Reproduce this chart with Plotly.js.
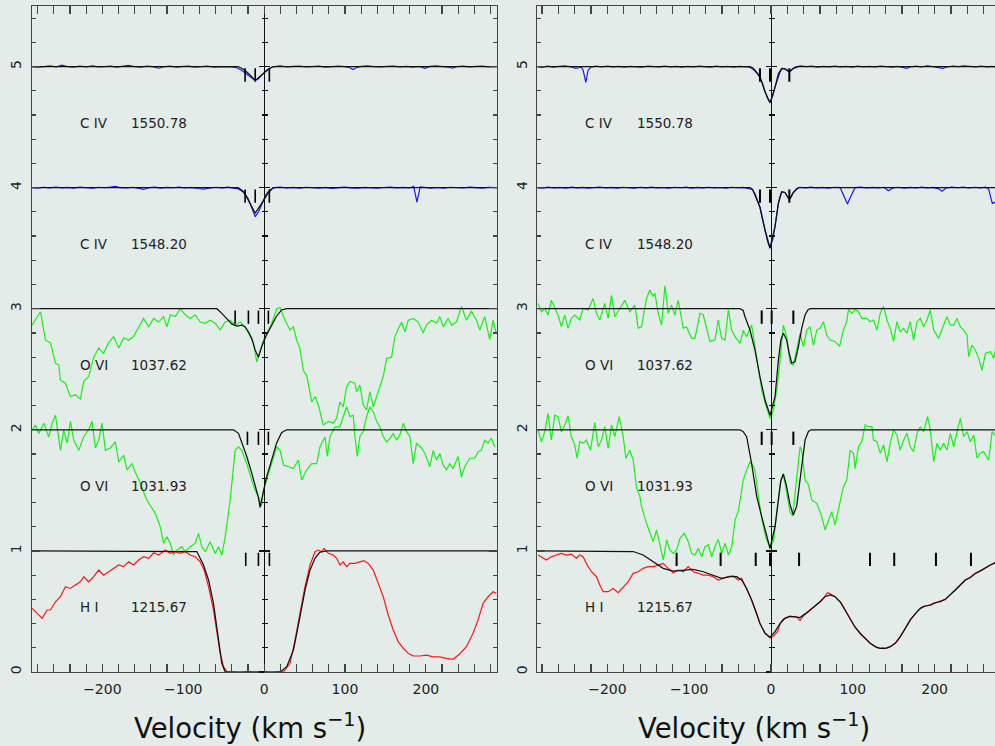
<!DOCTYPE html>
<html><head><meta charset="utf-8">
<script src="https://cdn.plot.ly/plotly-3.0.1.min.js"></script>
<style>html,body{margin:0;padding:0;background:#e3ece8;}#chart{width:995px;height:746px;}</style>
</head><body><div id="chart"></div>
<script>
// ---------- row definitions (offset = continuum level - 1) ----------
const ROW_OFFSETS = [4, 3, 2, 1, 0];
const ROW_IONS = ['C IV', 'C IV', 'O VI', 'O VI', 'H I'];
const ROW_WAVES = ['1550.78', '1548.20', '1037.62', '1031.93', '1215.67'];

// ---------- LEFT PANEL: observed spectra [velocity, normalized flux] ----------
const L_C4_1550 = [[-287,1.000],[-280,0.995],[-272,1.000],[-265,1.005],[-257,0.998],[-250,1.012],[-243,1.000],[-236,0.995],[-228,1.003],[-220,0.998],[-212,1.005],[-205,0.997],[-198,1.000],[-190,1.004],[-182,0.996],[-175,1.002],[-168,1.010],[-160,1.000],[-152,0.995],[-145,1.003],[-138,0.999],[-130,0.986],[-123,1.000],[-116,1.004],[-108,0.995],[-100,1.002],[-93,1.004],[-86,0.995],[-78,1.001],[-70,1.003],[-62,0.996],[-55,1.001],[-48,1.000],[-40,0.997],[-33,0.988],[-27,0.965],[-21,0.935],[-15,0.905],[-11,0.885],[-7,0.900],[-2,0.935],[3,0.970],[8,0.990],[13,1.000],[20,1.005],[28,0.998],[36,1.002],[44,1.004],[52,0.997],[60,1.001],[68,1.004],[76,0.996],[84,1.001],[92,1.003],[100,0.999],[106,0.990],[110,0.976],[114,0.990],[120,1.001],[128,1.006],[136,1.000],[144,0.997],[152,1.002],[160,1.004],[168,0.998],[176,1.001],[184,0.996],[192,1.001],[199,0.986],[205,1.001],[212,1.006],[220,1.003],[228,0.996],[233,0.986],[238,0.999],[246,1.004],[254,0.998],[262,1.001],[270,1.004],[278,0.997],[287,1.000]];
const L_C4_1548 = [[-287,1.000],[-280,0.996],[-272,1.003],[-265,0.998],[-257,1.005],[-250,0.997],[-243,1.002],[-236,0.995],[-228,1.004],[-220,1.000],[-212,0.995],[-205,1.003],[-198,0.999],[-190,1.004],[-184,1.011],[-178,1.000],[-170,0.997],[-162,1.003],[-155,0.996],[-149,0.985],[-142,1.000],[-135,1.004],[-128,0.996],[-120,1.002],[-112,0.999],[-105,1.004],[-98,0.997],[-90,1.002],[-82,0.993],[-75,0.988],[-68,0.995],[-60,1.003],[-52,0.998],[-45,1.004],[-38,0.996],[-32,0.990],[-26,0.965],[-20,0.915],[-15,0.830],[-11,0.760],[-7,0.800],[-2,0.880],[3,0.950],[8,0.985],[13,1.000],[20,1.004],[28,0.997],[36,1.002],[44,0.996],[52,1.003],[60,1.000],[68,0.996],[76,1.002],[84,0.994],[92,1.000],[100,1.004],[108,0.998],[116,0.995],[124,1.002],[132,0.997],[140,0.996],[148,1.001],[156,1.004],[164,0.998],[172,1.002],[180,0.997],[185,1.010],[189,0.880],[193,1.006],[198,1.002],[206,0.996],[214,1.001],[222,0.995],[230,1.003],[238,1.000],[246,0.997],[254,1.004],[262,1.000],[270,0.996],[278,1.003],[287,1.000]];
const L_O6_1037 = [[-287,0.865],[-276.5,0.975],[-270.4,0.74],[-264.2,0.72],[-258,0.55],[-253.9,0.535],[-251.9,0.41],[-245.7,0.385],[-239.5,0.275],[-233.3,0.29],[-227.2,0.255],[-223,0.40],[-216.9,0.44],[-210.7,0.60],[-204.5,0.675],[-198.4,0.63],[-192.2,0.72],[-186,0.77],[-179.8,0.675],[-173.7,0.76],[-167.5,0.74],[-161.3,0.77],[-157.2,0.825],[-149,0.92],[-142.8,0.85],[-136.6,0.92],[-130.4,0.89],[-124.3,0.935],[-120.2,0.85],[-116,0.95],[-109.9,0.935],[-103.7,1.0],[-97.5,0.95],[-91.4,0.92],[-85.2,0.95],[-79,0.89],[-72.8,0.88],[-66.7,0.905],[-60.5,0.88],[-54.3,0.825],[-48.1,0.89],[-42,0.905],[-35.8,0.865],[-29.6,0.89],[-23.5,0.85],[-17.3,0.77],[-13.2,0.72],[-9.1,0.56],[-4.9,0.66],[-0.8,0.74],[3.3,0.80],[9.5,0.88],[15.6,1.0],[19.8,1.01],[25.9,0.905],[32.1,0.825],[36.2,0.85],[40.3,0.74],[44.4,0.67],[48.6,0.49],[52.7,0.45],[58.9,0.23],[63,0.275],[67.1,0.205],[73.2,0.04],[79.4,0.07],[85.6,0.055],[89.7,0.095],[93.8,0.23],[97.9,0.19],[102,0.355],[106.2,0.40],[112.3,0.385],[114.4,0.315],[118.5,0.37],[122.6,0.205],[126.7,0.165],[130.9,0.315],[135,0.19],[139.1,0.275],[143.2,0.355],[147.3,0.44],[151.5,0.59],[157.6,0.60],[161.7,0.77],[165.8,0.825],[170,0.89],[174.1,0.81],[178.2,0.905],[184.4,0.92],[190.5,0.89],[196.7,0.80],[200.8,0.865],[207,0.905],[213.2,0.88],[217.3,0.935],[221.4,0.85],[227.6,0.92],[231.7,0.865],[237.9,0.89],[244,1.02],[250.2,0.905],[256.4,0.98],[262.6,0.905],[266.7,0.825],[272.8,0.935],[279,0.745],[283.1,0.905],[287,0.80]];
const L_O6_1031 = [[-286.8,1.0],[-282.7,1.04],[-278.6,0.97],[-272.4,1.055],[-266.3,0.94],[-262.1,1.055],[-258,1.12],[-251.9,0.83],[-247.7,1.0],[-243.6,0.89],[-239.5,1.07],[-235.4,0.915],[-229.2,0.83],[-223,0.945],[-216.9,1.0],[-212.8,1.07],[-208.6,0.85],[-204.5,0.915],[-200.4,1.055],[-196.3,0.83],[-190.1,0.85],[-183.9,0.90],[-179.8,0.735],[-173.7,0.79],[-169.5,0.67],[-163.4,0.72],[-159.3,0.65],[-153.1,0.56],[-146.9,0.45],[-144.9,0.42],[-134.6,0.31],[-128.4,0.20],[-124.3,0.063],[-120.2,0.117],[-116,0.063],[-111.9,-0.034],[-107.8,0.007],[-101.6,0.035],[-97.5,-0.007],[-91.4,0.035],[-85.2,0.063],[-81.1,0.145],[-77,0.035],[-72.8,-0.007],[-66.7,0.076],[-60.5,-0.021],[-56.4,0.035],[-52.3,-0.034],[-48.1,0.117],[-44,0.34],[-42,0.42],[-35.8,0.83],[-31.7,0.86],[-27.6,0.83],[-21.4,0.72],[-15.2,0.585],[-11.1,0.50],[-7,0.45],[-3.5,0.37],[-0.8,0.50],[5.3,0.64],[11.5,0.78],[15.6,0.86],[19.8,0.83],[23.9,0.71],[30,0.695],[36.2,0.68],[42.4,0.75],[46.5,0.585],[52.7,0.67],[58.9,0.72],[65,0.72],[69.1,0.86],[75.3,0.94],[78.2,0.78],[81.5,0.945],[87.7,1.025],[93.8,1.025],[97.9,1.11],[102,1.19],[106.2,1.11],[110.3,1.12],[112.3,0.945],[115.2,0.78],[118.5,0.945],[122.6,0.985],[126.7,1.11],[130.9,1.19],[135,1.15],[139.1,1.07],[143.2,1.025],[147.3,0.945],[151.5,0.90],[155.6,0.93],[159.7,0.97],[163.8,0.915],[168,0.96],[172.1,1.055],[176.2,0.985],[180.3,0.945],[184.4,0.72],[188.5,0.89],[194.7,0.85],[198.8,0.805],[205,0.695],[209.1,0.83],[213.2,0.75],[217.3,0.805],[221.4,0.71],[225.5,0.67],[229.6,0.72],[233.7,0.68],[239.9,0.78],[244,0.61],[248.1,0.695],[254.3,0.765],[260.5,0.765],[264.6,0.82],[268.7,0.83],[272.8,0.915],[276.9,0.89],[281,0.93],[285.2,0.86]];
const L_HI = [[-286.8,0.526],[-280.7,0.485],[-274.5,0.443],[-268.3,0.512],[-264.2,0.512],[-258,0.58],[-251.9,0.622],[-245.7,0.705],[-239.5,0.69],[-233.3,0.718],[-227.2,0.745],[-223,0.787],[-216.9,0.745],[-210.7,0.787],[-204.5,0.842],[-198.4,0.80],[-192.2,0.828],[-186,0.856],[-179.8,0.884],[-173.7,0.87],[-167.5,0.91],[-161.3,0.884],[-155.2,0.925],[-149,0.952],[-142.8,0.939],[-136.6,0.985],[-130.4,0.966],[-122.2,1.007],[-116,0.98],[-109.9,0.993],[-103.7,0.98],[-97.5,0.993],[-91.4,0.966],[-85.2,0.952],[-79,0.91],[-74.1,0.842],[-68.7,0.705],[-62.6,0.512],[-58.4,0.32],[-54.3,0.154],[-50.2,0.044],[-46.1,0.003],[-40,0.002],[-30,-0.003],[-20,0.004],[-10,0.0],[0,0.003],[10,-0.002],[20,0.003],[23.9,0.0],[32.1,0.072],[38.3,0.264],[44.4,0.485],[50.6,0.705],[56.8,0.884],[63,0.993],[67.1,1.007],[71.2,0.993],[74.1,1.02],[79.4,0.98],[85.6,0.966],[89.7,0.939],[93.8,0.884],[97.9,0.91],[102,0.87],[106.2,0.897],[112.3,0.897],[118.5,0.91],[123.5,0.92],[128.8,0.897],[135,0.842],[141.2,0.732],[147.3,0.622],[153.5,0.471],[159.7,0.347],[165.8,0.25],[172.1,0.196],[178.2,0.154],[184.4,0.132],[192.6,0.132],[200.8,0.14],[209.1,0.125],[217.3,0.125],[225.5,0.113],[233.7,0.105],[241.9,0.149],[250.2,0.209],[258.4,0.32],[264.6,0.43],[270.8,0.567],[277,0.622],[283.1,0.663],[287.2,0.65]];

// ---------- LEFT PANEL: fitted models ----------
const L_C4_1550_FIT = [[-287,1],[-32,1],[-25,0.975],[-18,0.935],[-11,0.885],[-4,0.925],[4,0.97],[11,1],[288,1]];
const L_C4_1548_FIT = [[-287,1],[-32,1],[-25,0.965],[-18,0.88],[-11,0.79],[-4,0.86],[4,0.945],[11,1],[288,1]];
const L_O6_1037_FIT = [[-287,1],[-58.4,1],[-52.3,0.962],[-46.1,0.92],[-40,0.875],[-33.8,0.857],[-27.6,0.865],[-23.5,0.85],[-19.4,0.81],[-15.2,0.755],[-11.1,0.66],[-7,0.60],[-3,0.686],[2,0.769],[8,0.845],[15,0.934],[21.6,0.99],[27.7,1],[288,1]];
const L_O6_1031_FIT = [[-287,1],[-37.9,1],[-31.7,0.971],[-27.6,0.90],[-21.4,0.78],[-15.2,0.64],[-11.1,0.53],[-7,0.44],[-5,0.36],[-3,0.42],[3,0.61],[9.3,0.75],[15.4,0.89],[21.6,0.976],[27.7,1],[288,1]];
const L_HI_FIT = [[-287,1],[-95.5,1],[-83.2,0.995],[-74.9,0.884],[-68.7,0.76],[-62.6,0.567],[-56.4,0.264],[-52.3,0.072],[-48.1,0],[19.8,0],[28,0.044],[36.2,0.18],[44.4,0.457],[50.6,0.677],[56.8,0.842],[63,0.939],[69.1,0.99],[77.4,1],[288,1]];

// ---------- RIGHT PANEL: observed spectra ----------
const R_C4_1550 = [[-286,1.0],[-280,0.994],[-273,1.003],[-266,0.996],[-259,1.002],[-252,1.006],[-245,0.998],[-239,0.985],[-235,0.99],[-231.7,0.995],[-229.7,0.97],[-226.4,0.87],[-223.6,0.97],[-220,0.995],[-214,1.003],[-207,0.998],[-200,1.004],[-193,0.997],[-186,1.002],[-179,0.996],[-172,1.001],[-165,0.999],[-158,0.994],[-151,1.004],[-144,1.002],[-137,0.997],[-130,1.003],[-123,0.998],[-116,1.001],[-109,0.996],[-102,1.002],[-95,0.997],[-88,1.004],[-81,0.999],[-74,0.996],[-67,1.003],[-60,0.997],[-53,1.001],[-46,0.995],[-39,1.001],[-32,0.998],[-26,0.995],[-21.6,0.975],[-17,0.945],[-13.5,0.91],[-10,0.855],[-7.3,0.795],[-4,0.735],[-1.2,0.705],[2,0.755],[4.9,0.83],[8,0.90],[11,0.955],[14,0.985],[17.1,0.98],[20,0.965],[22.4,0.955],[25,0.97],[29.4,0.995],[36,1.006],[43,0.999],[50,1.003],[57,0.996],[64,1.002],[71,0.998],[78,1.004],[85,0.997],[92,1.001],[99,0.995],[106,1.003],[113,0.998],[120,1.002],[127,0.997],[134,1.004],[141,0.999],[148,0.996],[155,1.002],[162,0.995],[166,0.985],[170,0.996],[177,1.003],[184,0.998],[191,1.005],[198,1.0],[205,0.993],[210,0.985],[215,0.996],[222,1.004],[229,0.999],[236,1.006],[243,1.001],[250,0.997],[257,1.003],[264,0.998],[270,1.001],[274,0.997]];
const R_C4_1548 = [[-286,1.0],[-279,0.996],[-272,1.004],[-265,0.997],[-258,1.002],[-251,0.995],[-244,1.004],[-237,0.998],[-230,1.002],[-223,0.996],[-216,1.001],[-209,1.005],[-202,0.997],[-195,1.002],[-188,0.996],[-181,1.003],[-174,0.999],[-167,0.995],[-160,1.003],[-153,0.998],[-146,1.004],[-139,0.997],[-132,1.001],[-125,0.996],[-118,1.003],[-111,0.999],[-104,1.004],[-97,0.996],[-90,1.002],[-83,0.998],[-76,1.003],[-69,0.997],[-62,1.001],[-55,0.996],[-48,1.003],[-41,0.999],[-34,1.002],[-28,0.996],[-23,0.985],[-19.6,0.95],[-16.5,0.89],[-13.5,0.835],[-10.5,0.74],[-7.3,0.65],[-4,0.55],[-1.2,0.50],[2,0.57],[4.9,0.68],[7,0.79],[9,0.87],[11,0.93],[13.1,0.965],[17.1,0.96],[20,0.93],[22.4,0.90],[25,0.93],[27.3,0.96],[31,0.99],[35,1.003],[42,0.998],[49,1.004],[56,0.997],[63,1.002],[70,0.996],[77,1.003],[84.5,1.0],[88,0.95],[93.4,0.865],[98,0.935],[102.8,1.0],[110,1.004],[117,0.997],[124,1.002],[131,0.998],[138,1.003],[143.6,0.975],[149,0.998],[156,1.003],[163,0.996],[170,1.002],[177,0.997],[184,1.004],[191,0.998],[198,1.002],[205,0.99],[209,0.97],[214,0.997],[221,1.004],[228,0.999],[235,1.005],[242,0.997],[249,1.003],[256,0.998],[262,1.004],[266,0.99],[270.5,0.87],[274,0.88]];
const R_O6_1037 = [[-284.8,1.045],[-280.7,0.975],[-276.6,1.003],[-272.6,0.948],[-268.5,1.07],[-264.4,1.003],[-260.3,0.948],[-256.2,0.85],[-252.1,0.948],[-248.1,0.838],[-244,0.92],[-239.9,0.948],[-233.8,0.907],[-229.7,1.003],[-223.6,0.99],[-217.5,1.085],[-213.4,0.962],[-209.3,0.907],[-203.2,1.045],[-199.1,0.92],[-195,1.11],[-190.9,0.934],[-184.8,1.003],[-178.7,1.07],[-172.6,0.975],[-166.5,1.03],[-162.4,0.84],[-158.3,0.85],[-152.2,1.085],[-148.1,1.155],[-144,1.10],[-142,1.13],[-137.9,0.962],[-133.8,0.865],[-129.7,1.19],[-125.7,0.962],[-121.6,1.03],[-117.5,0.948],[-113.4,1.07],[-107.3,0.84],[-103.2,0.85],[-97.1,0.755],[-93,0.755],[-86.9,0.962],[-82.8,0.948],[-78.7,0.824],[-74.7,0.73],[-68.5,0.741],[-64.5,0.907],[-60.4,0.755],[-56.3,0.741],[-52.2,0.99],[-48.1,0.824],[-44.1,0.769],[-37.9,0.714],[-33.9,0.82],[-29.8,0.769],[-23.7,0.865],[-19.6,0.686],[-15.5,0.49],[-11.4,0.33],[-7.3,0.22],[-1.2,0.095],[2.9,0.163],[7,0.329],[11,0.576],[15.1,0.865],[19.2,0.769],[23.3,0.55],[27.3,0.535],[31.4,0.659],[35.5,0.797],[39.6,0.686],[43.7,0.824],[47.7,0.851],[51.8,0.70],[55.9,0.824],[60,0.838],[64.1,0.893],[68.1,0.783],[72.2,0.741],[78.3,0.728],[83.9,0.69],[88.5,0.824],[92.6,0.893],[94.7,0.995],[98.8,0.962],[102.8,0.995],[106.9,0.975],[111,0.92],[117.1,0.92],[121.2,0.893],[125.3,0.907],[129.4,0.824],[133.5,0.962],[137.6,1.02],[141.7,0.907],[145.7,0.838],[149.8,0.73],[153.9,0.893],[158,0.81],[162.1,0.838],[166.1,0.797],[170.2,0.893],[174.3,0.741],[178.4,0.893],[182.5,0.92],[186.5,0.851],[190.6,0.907],[194.7,0.99],[198.8,0.824],[204.9,0.755],[211,0.865],[215.1,0.934],[219.2,0.865],[223.3,0.865],[227.3,0.92],[231.4,0.851],[235.5,0.824],[239.6,0.783],[241.6,0.604],[245.7,0.70],[249.8,0.659],[253.9,0.59],[258,0.49],[262.1,0.632],[268.2,0.645],[272.3,0.59],[274.3,0.659]];
const R_O6_1031 = [[-284.8,1.0],[-280.7,0.90],[-276.6,0.984],[-272.6,1.135],[-268.5,0.916],[-264.4,1.122],[-260.3,1.108],[-256.2,0.984],[-252.1,1.04],[-248.1,1.116],[-244,0.943],[-239.9,0.875],[-237,0.765],[-233.8,0.902],[-229.7,0.888],[-225.6,0.916],[-220.7,0.833],[-215.4,1.06],[-211.3,0.86],[-207.2,0.916],[-203.2,1.026],[-199.1,0.847],[-195,1.04],[-190.9,0.943],[-185.6,1.11],[-180.7,0.943],[-177.4,0.765],[-172.6,0.833],[-168.5,0.75],[-164.4,0.52],[-160.3,0.45],[-158.3,0.365],[-152.2,0.228],[-148.1,0.159],[-144,0.076],[-139.9,0.173],[-135.8,0.035],[-131.7,-0.075],[-127.6,0.09],[-123.6,0.007],[-119.5,-0.02],[-115.4,0.007],[-111.3,0.104],[-106,0.145],[-101.1,0.076],[-97,-0.02],[-93,-0.034],[-88.9,0.021],[-84.8,-0.048],[-80.7,0.035],[-76.6,0.049],[-72.5,-0.048],[-68.5,0.035],[-64.4,0.096],[-60.3,-0.02],[-56.2,0.063],[-52.1,-0.034],[-48,0.035],[-43.9,0.255],[-40,0.33],[-37,0.45],[-33.9,0.585],[-29.8,0.668],[-25.7,0.735],[-21.5,0.70],[-19.6,0.668],[-15.5,0.45],[-11,0.25],[-6,0.1],[-1.2,0.03],[3,0.08],[7,0.3],[11,0.55],[15.1,0.635],[19,0.5],[23.3,0.32],[26.5,0.29],[30,0.5],[35.5,0.86],[37.5,0.83],[41.6,0.585],[45.7,0.55],[49.8,0.42],[55.9,0.393],[62,0.283],[66.1,0.173],[70.2,0.255],[74.2,0.324],[78.3,0.214],[82.4,0.338],[84.5,0.43],[88.5,0.53],[92.6,0.585],[96.7,0.83],[100.8,0.806],[102.8,0.68],[106.9,0.86],[111,0.902],[115.1,1.04],[119.2,1.026],[123.3,1.026],[125.3,0.916],[129.4,0.902],[133.5,0.806],[137.6,0.875],[141.7,0.735],[145.7,0.888],[149.8,1.0],[153.9,0.957],[158,0.833],[162.1,0.916],[166.1,0.971],[170.2,0.86],[174.3,0.82],[178.4,0.971],[182.5,1.026],[186.5,0.984],[191.4,1.11],[194.7,1.0],[198.8,0.737],[202.9,0.888],[206.9,0.833],[211,0.888],[215.1,0.833],[219.2,0.971],[223.3,0.86],[227.3,0.984],[231.4,1.095],[235.5,0.943],[239.6,0.984],[243.7,0.902],[247.8,0.957],[251.8,0.765],[255.9,0.806],[260,0.82],[266.1,0.75],[270.2,0.984],[274.3,0.957]];
const R_HI = [[-284.8,0.966],[-280.7,0.952],[-274.5,0.925],[-268.5,0.952],[-262.4,0.966],[-256.2,0.98],[-250.1,0.966],[-244,0.974],[-237.9,0.939],[-233.8,0.966],[-229.7,0.952],[-224.8,0.884],[-219.5,0.828],[-213.4,0.787],[-209.3,0.718],[-205.2,0.663],[-199.1,0.663],[-193,0.69],[-186.9,0.655],[-180.7,0.70],[-174.6,0.745],[-168.5,0.815],[-162.4,0.828],[-156.3,0.856],[-150.2,0.87],[-144,0.87],[-137.9,0.884],[-131.8,0.897],[-125.7,0.856],[-119.5,0.82],[-113.4,0.842],[-107.3,0.828],[-101.2,0.87],[-95.1,0.828],[-89,0.815],[-82.8,0.80],[-76.7,0.80],[-70.6,0.787],[-64.5,0.76],[-58.4,0.774],[-52.2,0.787],[-46.1,0.793],[-40,0.76],[-35.9,0.774],[-29.8,0.69],[-23.7,0.595],[-17.5,0.485],[-13.5,0.40],[-7.3,0.32],[-1.2,0.28],[2,0.29],[4.9,0.31],[8,0.335],[11,0.395],[14,0.43],[17.1,0.445],[20,0.455],[23.3,0.462],[26,0.455],[29.4,0.46],[32,0.45],[35.5,0.425],[38,0.45],[41.6,0.478],[44.5,0.49],[47.7,0.512],[51,0.53],[53.8,0.545],[57,0.56],[59.9,0.58],[63,0.60],[66.1,0.625],[69,0.655],[72.2,0.645],[75,0.635],[78.3,0.622],[81,0.60],[84.5,0.58],[87.5,0.55],[90.6,0.51],[93.6,0.475],[96.7,0.443],[99.7,0.405],[102.8,0.37],[105.8,0.345],[108.9,0.32],[112,0.295],[115.1,0.28],[118,0.255],[121.2,0.237],[124.3,0.225],[127.3,0.21],[130.4,0.198],[133.5,0.196],[136.5,0.2],[139.6,0.196],[142.6,0.198],[145.7,0.209],[148.8,0.222],[151.8,0.237],[155,0.262],[158,0.292],[161,0.325],[164.1,0.36],[167,0.39],[170.2,0.43],[173.3,0.46],[176.3,0.48],[179.4,0.505],[182.5,0.526],[185.5,0.54],[188.6,0.545],[191.6,0.55],[194.7,0.553],[197.8,0.565],[200.8,0.572],[203.8,0.575],[206.9,0.58],[210,0.59],[213,0.60],[216,0.618],[219.2,0.636],[222.2,0.655],[225.3,0.677],[228.4,0.698],[231.4,0.718],[234.5,0.74],[237.5,0.76],[240.6,0.77],[243.7,0.78],[246.7,0.80],[249.8,0.815],[252.8,0.823],[255.9,0.835],[259,0.85],[262,0.862],[265,0.872],[268.2,0.884],[271.2,0.895],[274.3,0.904]];

// ---------- RIGHT PANEL: fitted models ----------
const R_C4_1550_FIT = [[-287,1],[-25.7,1],[-22.5,0.99],[-19.6,0.97],[-13.5,0.915],[-7.3,0.79],[-1.2,0.70],[4.9,0.83],[9,0.94],[13.1,0.985],[17.1,0.98],[22.4,0.96],[27.3,0.985],[33.5,1],[275,1]];
const R_C4_1548_FIT = [[-287,1],[-25.7,1],[-22.5,0.985],[-19.6,0.94],[-13.5,0.84],[-7.3,0.65],[-1.2,0.50],[4.9,0.68],[9,0.87],[13.1,0.966],[17.1,0.96],[22.4,0.90],[27.3,0.96],[33.5,1],[275,1]];
const R_O6_1037_FIT = [[-287,1],[-38,1],[-34,0.985],[-31.8,0.934],[-25.7,0.824],[-19.6,0.659],[-13.5,0.438],[-7.3,0.246],[-1.2,0.12],[4.9,0.273],[9,0.576],[12,0.74],[15.1,0.797],[19.2,0.741],[22,0.64],[25.3,0.55],[29.4,0.563],[33.5,0.686],[37.5,0.838],[41.6,0.948],[45,0.99],[47.7,1],[275,1]];
const R_O6_1031_FIT = [[-287,1],[-38,1],[-34,0.985],[-29.8,0.943],[-23.7,0.72],[-17.5,0.45],[-12,0.30],[-7.3,0.18],[-1.2,0.02],[4.9,0.2],[9,0.42],[12,0.58],[15,0.635],[18.5,0.55],[23.3,0.38],[27.3,0.296],[31.4,0.37],[34,0.5],[37.5,0.72],[41.6,0.915],[45.7,0.986],[49,1],[275,1]];
const R_HI_FIT = [[-287,1],[-180.7,1],[-168.5,0.995],[-156.3,0.966],[-144,0.91],[-131.8,0.856],[-119.5,0.834],[-107.3,0.842],[-95.1,0.848],[-82.8,0.828],[-70.6,0.80],[-60.4,0.774],[-50.2,0.787],[-42,0.787],[-35.9,0.76],[-29.8,0.69],[-23.7,0.595],[-17.5,0.475],[-13.5,0.40],[-7.3,0.32],[-1.2,0.287],[4.9,0.333],[11,0.40],[17.1,0.443],[23.3,0.46],[29.4,0.455],[35.5,0.45],[41.6,0.48],[47.7,0.51],[53.8,0.545],[59.9,0.58],[66.1,0.622],[72.2,0.636],[78.3,0.622],[84.5,0.58],[90.6,0.512],[96.7,0.443],[102.8,0.37],[108.9,0.32],[115.1,0.28],[121.2,0.237],[127.3,0.21],[133.5,0.196],[139.6,0.196],[145.7,0.209],[151.8,0.237],[158,0.292],[164.1,0.36],[170.2,0.43],[176.3,0.48],[182.5,0.526],[188.6,0.545],[194.7,0.553],[200.8,0.572],[206.9,0.58],[213,0.60],[219.2,0.636],[225.3,0.677],[231.4,0.718],[237.5,0.76],[243.7,0.78],[249.8,0.815],[255.9,0.835],[262,0.862],[268.2,0.884],[274.3,0.904]];

// ---------- component velocity markers ----------
const L_MARKS = [[-23.5,-11,6.5],[-23.5,-11,6.5],[-35.8,-19.4,-7,5.3],[-20.6,-7,5.3],[-22.7,-7,6.6]];
const R_MARKS = [[-13.5,-1.2,22.4],[-13.5,-1.2,22.4],[-11.4,0.8,27.3],[-11.4,0.8,27.3],[-115.4,-61.6,-18.7,-1.2,34.3,121,150.6,201.6,244.4]];

// ---------- build ----------
const BLUE='rgb(25,25,255)', GREEN='rgb(25,240,25)', RED='rgb(255,20,20)', BLACK='#000';
const ROW_COLORS=[BLUE,BLUE,GREEN,GREEN,RED];
const L_DATA=[L_C4_1550,L_C4_1548,L_O6_1037,L_O6_1031,L_HI];
const L_FIT=[L_C4_1550_FIT,L_C4_1548_FIT,L_O6_1037_FIT,L_O6_1031_FIT,L_HI_FIT];
const R_DATA=[R_C4_1550,R_C4_1548,R_O6_1037,R_O6_1031,R_HI];
const R_FIT=[R_C4_1550_FIT,R_C4_1548_FIT,R_O6_1037_FIT,R_O6_1031_FIT,R_HI_FIT];

function line(pairs, off, color, w, xa, ya){
  return {type:'scatter', mode:'lines', x:pairs.map(p=>p[0]), y:pairs.map(p=>p[1]+off),
    line:{color:color, width:w}, xaxis:xa, yaxis:ya, hoverinfo:'skip', showlegend:false};
}
function marks(list, xa, ya, w){
  const x=[], y=[];
  list.forEach((vs,i)=>{ vs.forEach(v=>{ x.push(v,v,null); y.push(ROW_OFFSETS[i]+0.985, ROW_OFFSETS[i]+0.875, null); }); });
  return {type:'scatter', mode:'lines', x:x, y:y, line:{color:BLACK, width:w}, xaxis:xa, yaxis:ya, hoverinfo:'skip', showlegend:false, connectgaps:false};
}
const traces=[];
for(let i=0;i<5;i++){
  traces.push(line(L_DATA[i], ROW_OFFSETS[i], ROW_COLORS[i], 1.2, 'x', 'y'));
  traces.push(line(R_DATA[i], ROW_OFFSETS[i], ROW_COLORS[i], 1.2, 'x2', 'y2'));
}
for(let i=0;i<5;i++){
  traces.push(line(L_FIT[i], ROW_OFFSETS[i], '#111', 1.25, 'x', 'y3'));
  traces.push(line(R_FIT[i], ROW_OFFSETS[i], '#111', 1.25, 'x2', 'y5'));
}
traces.push(marks(L_MARKS, 'x', 'y4', 1.6));
traces.push(marks(R_MARKS, 'x2', 'y6', 2));

const FONT='DejaVu Sans';
const AX='#444';
function xax(domain, range, anchor){
  return {domain:domain, range:range, anchor:anchor, showline:true, linecolor:AX, linewidth:1.2, mirror:'allticks',
    ticks:'inside', ticklen:8, tickwidth:1.2, tickcolor:AX, tick0:0, dtick:100,
    minor:{ticks:'inside', dtick:20, ticklen:4, tickwidth:1.2, tickcolor:AX, showgrid:false},
    showgrid:false, zeroline:false, fixedrange:true, ticklabelstandoff:4,
    tickfont:{family:FONT, size:14, color:'#222'}};
}
function yax(anchor, mirror){
  return {domain:[0,1], range:[0,5.5], anchor:anchor, showline:true, linecolor:AX, linewidth:1.2, mirror:mirror,
    ticks:'inside', ticklen:8, tickwidth:1.2, tickcolor:AX, tick0:0, dtick:1,
    minor:{ticks:'inside', dtick:0.2, ticklen:4, tickwidth:1.2, tickcolor:AX, showgrid:false},
    showgrid:false, zeroline:false, fixedrange:true, tickangle:-90, ticklabelstandoff:4,
    tickfont:{family:FONT, size:14, color:'#222'}};
}
function zax(over, pos, dir){
  return {overlaying:over, anchor:'free', position:pos, range:[0,5.5], showline:true, linecolor:'#111', linewidth:1.2,
    ticks:dir, ticklen:5, tickwidth:1.2, tickcolor:'#111', tick0:0, dtick:1,
    minor:{ticks:dir, dtick:0.2, ticklen:2.5, tickwidth:1.2, tickcolor:'#111', showgrid:false},
    showticklabels:false, showgrid:false, zeroline:false, fixedrange:true};
}
const L0=32, W=963;
const annotations=[];
for(let i=0;i<5;i++){
  const y=ROW_OFFSETS[i]+0.535;
  [['x','y',-230,-167],['x2','y2',-230,-166]].forEach(a=>{
    annotations.push({xref:a[0], yref:a[1], x:a[2], y:y, xanchor:'left', yanchor:'middle', showarrow:false,
      text:ROW_IONS[i], font:{family:FONT, size:13.5, color:'#222'}});
    annotations.push({xref:a[0], yref:a[1], x:a[3], y:y, xanchor:'left', yanchor:'middle', showarrow:false,
      text:ROW_WAVES[i], font:{family:FONT, size:13.5, color:'#222'}});
  });
}
const TITLE='Velocity (km s<sup>\u22121</sup>)';
[(249.7-L0)/W, (754-L0)/W].forEach(xc=>{
  annotations.push({xref:'paper', yref:'paper', x:xc, y:(672-726)/666, xanchor:'center', yanchor:'middle',
    showarrow:false, text:TITLE, font:{family:FONT, size:27.5, color:'#111'}});
});

const layout={
  width:995, height:746, margin:{l:L0, r:0, t:6, b:74, pad:0},
  paper_bgcolor:'#e3ece8', plot_bgcolor:'#e3ece8', showlegend:false, hovermode:false,
  xaxis:xax([0,(497-L0)/W], [-287,288], 'y'),
  xaxis2:xax([(537.3-L0)/W,1], [-285.7,273.8], 'y2'),
  yaxis:yax('x','allticks'),
  yaxis2:yax('x2',false),
  yaxis3:zax('y',(264-L0)/W,'outside'),
  yaxis4:zax('y',(264-L0)/W,'inside'),
  yaxis5:zax('y2',(771-L0)/W,'outside'),
  yaxis6:zax('y2',(771-L0)/W,'inside'),
  annotations:annotations
};
Plotly.newPlot('chart', traces, layout, {staticPlot:true, displayModeBar:false});
</script></body></html>
